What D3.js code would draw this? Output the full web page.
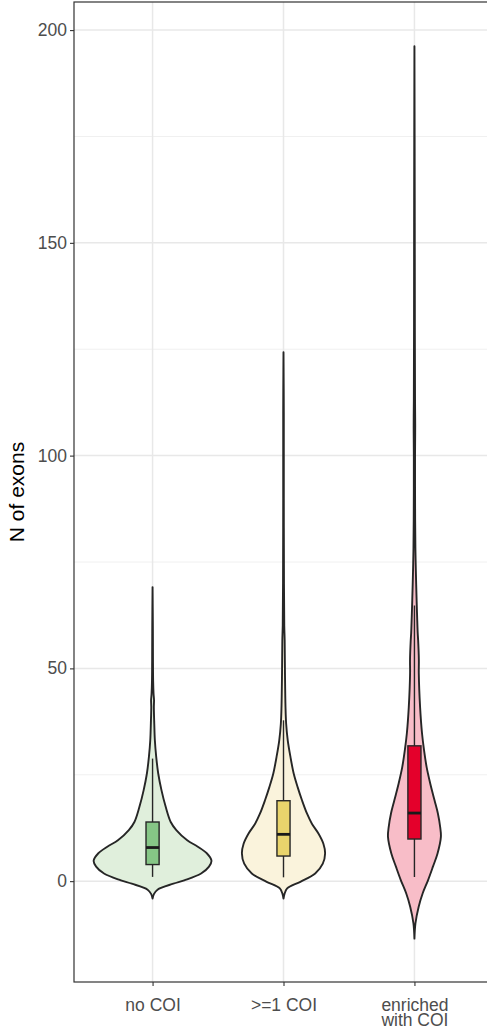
<!DOCTYPE html>
<html lang="en">
  <head>
    <meta charset="utf-8" />
    <title>N of exons</title>
    <script src="https://cdnjs.cloudflare.com/ajax/libs/d3/7.8.5/d3.min.js"></script>
    <style>
      body {
        margin: 0;
        background: #fff;
      }
      svg text {
        font-family: "Liberation Sans", Arial, sans-serif;
      }
      .tick text {
        font-size: 17.5px;
        fill: #4d4d4d;
      }
      .tick line {
        stroke: #333;
        stroke-width: 1.1px;
      }
    </style>
  </head>
  <body>
    <svg id="chart" width="487" height="1026"></svg>
    <script>
      // categories + tick labels
      const groups = ["no COI", ">=1 COI", "enriched with COI"];
      const groupLines = [["no COI"], [">=1 COI"], ["enriched", "with COI"]];
      const yTicks = [0, 50, 100, 150, 200];
      const yMinor = [25, 75, 125, 175];

      // violin outlines (value, relative width)
      const noCoiY = [-4.1, -3, -2, -0.6, 0.2, 1.8, 3.4, 4.8, 6.5, 8.1, 9.6, 12, 13.9, 17.4, 21.4, 25.3, 29.2, 33.1, 37, 40.9, 42.5, 44, 47, 52, 60, 69.1];
      const noCoiW = [0, 0.025, 0.084, 0.353, 0.538, 0.824, 0.958, 1, 0.924, 0.768, 0.588, 0.403, 0.308, 0.224, 0.151, 0.096, 0.062, 0.039, 0.029, 0.022, 0.025, 0.017, 0.01, 0.007, 0.005, 0];
      const oneCoiY = [-4.1, -3, -1.7, -0.15, 1.8, 4.1, 6.5, 8.8, 11.2, 13.5, 15.9, 19, 22.1, 25.3, 29.2, 33.1, 37, 40.9, 48.8, 56.6, 60, 70, 90, 110, 124.3];
      const oneCoiW = [0, 0.017, 0.062, 0.286, 0.538, 0.667, 0.706, 0.677, 0.593, 0.482, 0.398, 0.314, 0.24, 0.173, 0.118, 0.072, 0.045, 0.034, 0.025, 0.02, 0.013, 0.008, 0.005, 0.005, 0];
      const enrY = [-13.5, -9.9, -6, -2.9, 0.2, 3.4, 6.5, 10.4, 12.7, 15.9, 19, 22.9, 26.8, 30.8, 34.7, 40.9, 48.8, 52, 56.6, 58.2, 62, 66, 72.3, 77.7, 85, 100, 107, 113, 130, 160, 196.2];
      const enrW = [0, 0.017, 0.072, 0.139, 0.23, 0.314, 0.392, 0.449, 0.437, 0.398, 0.341, 0.269, 0.207, 0.163, 0.129, 0.096, 0.074, 0.075, 0.063, 0.056, 0.046, 0.037, 0.025, 0.017, 0.012, 0.01, 0.013, 0.01, 0.007, 0.005, 0];

      // boxplot stats: lower whisker, q1, median, q3, upper whisker
      const whiskLo = [1, 0.9, 1.0];
      const q1 = [3.9, 5.9, 9.9];
      const medians = [7.9, 11.0, 16.0];
      const q3 = [13.9, 18.9, 31.8];
      const whiskHi = [28.8, 37.8, 64.8];

      const violinFill = ["#e0efdc", "#faf3dc", "#f8bdc8"];
      const boxFill = ["#86c686", "#e9d46c", "#e4002b"];

      const violins = [
        d3.zip(noCoiY, noCoiW),
        d3.zip(oneCoiY, oneCoiW),
        d3.zip(enrY, enrW),
      ];

      const margin = { top: 2, right: -6, bottom: 44, left: 74 };
      const width = 487;
      const height = 1026;
      const svg = d3.select("#chart");

      const x = d3
        .scalePoint()
        .domain(groups)
        .range([margin.left, width - margin.right])
        .padding(0.6);
      const step = x.step();
      const y = d3
        .scaleLinear()
        .domain([-23.7, 206.6])
        .range([height - margin.bottom, margin.top]);
      const vw = d3.scaleLinear().domain([0, 1]).range([0, 0.45 * step]);

      //grid
      const grid = svg.append("g");
      grid
        .selectAll("line.minor")
        .data(yMinor)
        .join("line")
        .attr("x1", margin.left)
        .attr("x2", width - margin.right)
        .attr("y1", (d) => y(d))
        .attr("y2", (d) => y(d))
        .attr("stroke", "#f0f0f0")
        .attr("stroke-width", 1);
      grid
        .selectAll("line.major")
        .data(yTicks)
        .join("line")
        .attr("x1", margin.left)
        .attr("x2", width - margin.right)
        .attr("y1", (d) => y(d))
        .attr("y2", (d) => y(d))
        .attr("stroke", "#e8e8e8")
        .attr("stroke-width", 1.5);
      grid
        .append("g")
        .selectAll("line")
        .data(groups)
        .join("line")
        .attr("x1", (d) => x(d))
        .attr("x2", (d) => x(d))
        .attr("y1", margin.top)
        .attr("y2", height - margin.bottom)
        .attr("stroke", "#e8e8e8")
        .attr("stroke-width", 1.5);

      //violins
      violins.forEach((pts, i) => {
        const cx = x(groups[i]);
        const area = d3
          .area()
          .curve(d3.curveCatmullRom)
          .y((d) => y(d[0]))
          .x0((d) => cx - vw(d[1]))
          .x1((d) => cx + vw(d[1]));
        svg
          .append("path")
          .attr("d", area(pts))
          .attr("fill", violinFill[i])
          .attr("stroke", "#262626")
          .attr("stroke-width", 1.9)
          .attr("stroke-linejoin", "round");
      });

      //boxplots
      const bw = 0.1 * step;
      const boxes = svg
        .append("g")
        .selectAll("g")
        .data(groups)
        .join("g");
      boxes
        .append("line")
        .attr("x1", (d) => x(d))
        .attr("x2", (d) => x(d))
        .attr("y1", (d, i) => y(whiskLo[i]))
        .attr("y2", (d, i) => y(whiskHi[i]))
        .attr("stroke", "#262626")
        .attr("stroke-width", 1.4);
      boxes
        .append("rect")
        .attr("x", (d) => x(d) - bw / 2)
        .attr("width", bw)
        .attr("y", (d, i) => y(q3[i]))
        .attr("height", (d, i) => y(q1[i]) - y(q3[i]))
        .attr("fill", (d, i) => boxFill[i])
        .attr("stroke", "#262626")
        .attr("stroke-width", 1.4);
      boxes
        .append("line")
        .attr("x1", (d) => x(d) - bw / 2)
        .attr("x2", (d) => x(d) + bw / 2)
        .attr("y1", (d, i) => y(medians[i]))
        .attr("y2", (d, i) => y(medians[i]))
        .attr("stroke", "#1a1a1a")
        .attr("stroke-width", 2.8);

      //panel border
      svg
        .append("rect")
        .attr("x", margin.left)
        .attr("y", margin.top)
        .attr("width", width - margin.right - margin.left)
        .attr("height", height - margin.bottom - margin.top)
        .attr("fill", "none")
        .attr("stroke", "#333")
        .attr("stroke-width", 1.2);

      //axes
      svg
        .append("g")
        .attr("transform", `translate(${margin.left},0)`)
        .call(d3.axisLeft(y).tickValues(yTicks).tickSize(4).tickPadding(3))
        .call((g) => g.select(".domain").remove());

      const xg = svg
        .append("g")
        .attr("transform", `translate(0,${height - margin.bottom})`)
        .call(d3.axisBottom(x).tickSize(4).tickFormat(""))
        .call((g) => g.select(".domain").remove());
      xg.selectAll(".tick")
        .append("text")
        .attr("text-anchor", "middle")
        .attr("fill", "#4d4d4d")
        .style("font-size", "17.5px")
        .selectAll("tspan")
        .data((d, i) => groupLines[i])
        .join("tspan")
        .attr("x", 0)
        .attr("y", (d, i) => 29 + i * 14.5)
        .text((d) => d);

      // y title
      svg
        .append("text")
        .attr("transform", `translate(24,${(margin.top + height - margin.bottom) / 2}) rotate(-90)`)
        .attr("text-anchor", "middle")
        .style("font-size", "21px")
        .attr("fill", "#000")
        .text("N of exons");
    </script>
  </body>
</html>
